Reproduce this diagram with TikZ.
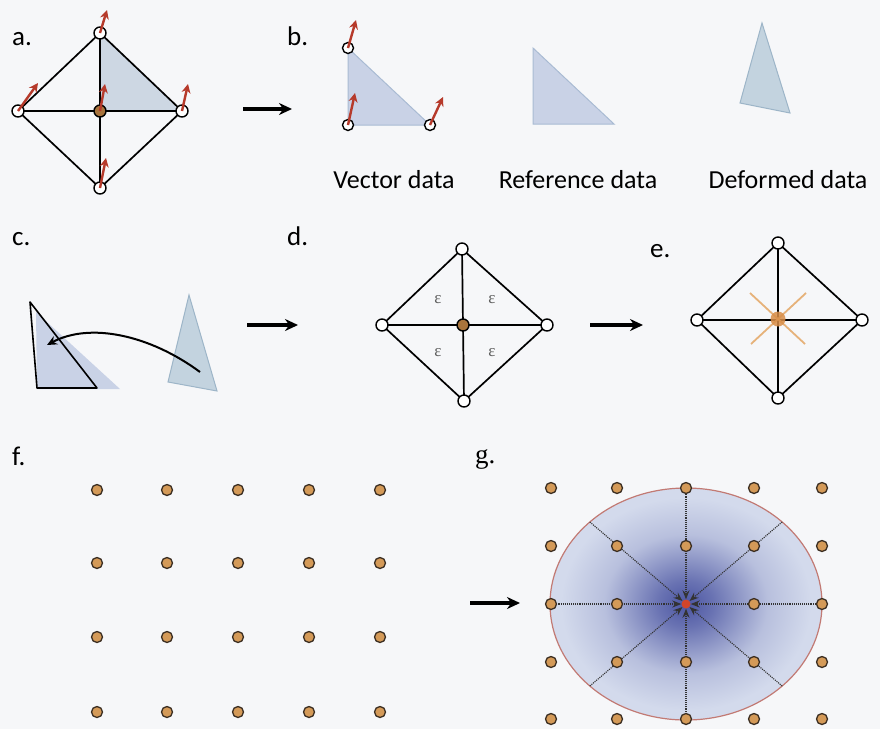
\documentclass[tikz,border=0pt]{standalone}
\usepackage{fontspec}
\setmainfont{Carlito}
\newfontfamily\seriffont{Liberation Serif}
\usetikzlibrary{arrows.meta}

\definecolor{bgcol}{HTML}{F6F7F9}
\definecolor{triblue}{HTML}{C9D2E6}
\definecolor{triedge}{HTML}{A9BBD3}
\definecolor{shadeblue}{HTML}{CDD7E3}
\definecolor{defblue}{HTML}{C3D3DF}
\definecolor{defedge}{HTML}{9DB5C8}
\definecolor{vecred}{HTML}{B63A2B}
\definecolor{dotfill}{HTML}{D49A58}
\definecolor{dotedge}{HTML}{3B2E22}
\definecolor{ctrfill}{HTML}{A8743C}
\definecolor{crossor}{HTML}{E6B27A}
\definecolor{blobor}{HTML}{D98E48}
\definecolor{rimred}{HTML}{C27A74}
\definecolor{gdark}{HTML}{4B55A2}
\definecolor{glight}{HTML}{D3DAEC}
\definecolor{epsgray}{HTML}{5E5E5E}
\definecolor{reddot}{HTML}{D2452A}

\pgfdeclareradialshading{glow}{\pgfpoint{0bp}{0bp}}{color(0bp)=(gdark); color(5bp)=(gdark!78!glight); color(15bp)=(glight!80!gdark); color(23bp)=(glight); color(50bp)=(glight)}

\tikzset{
  vtx/.style={circle, draw, fill=white, line width=1.4pt, minimum size=12pt, inner sep=0pt},
  ctr/.style={vtx, fill=ctrfill},
  gdot/.style={circle, draw=dotedge, fill=dotfill, line width=1.3pt, minimum size=11pt, inner sep=0pt},
  mesh/.style={line width=1.7pt},
  vec/.style={draw=vecred, line width=2.4pt, -{Stealth[length=9pt,width=9pt]}},
  flow/.style={line width=3.5pt, -{Stealth[length=13pt,width=12pt]}},
  tri/.style={fill=triblue, draw=triedge, line width=1pt},
  deftri/.style={fill=defblue, draw=defedge, line width=1pt},
  lbl/.style={anchor=base west, inner sep=0pt, font=\fontsize{27}{30}\selectfont},
  caption/.style={anchor=base, inner sep=0pt, font=\fontsize{26}{30}\selectfont},
  eps/.style={text=epsgray, font=\seriffont\fontsize{17}{18}\selectfont, inner sep=0pt},
  ray/.style={densely dotted, line width=1.1pt, draw=black!80, -{Stealth[length=9pt,width=7pt]}}
}

\begin{document}
\begin{tikzpicture}[x=1pt,y=-1pt]
    \fill[bgcol] (0,0) rectangle (880,729);
    \useasboundingbox (0,0) rectangle (880,729);

    % a. mesh with vectors
    \begin{scope}
        \node[lbl] (la) at (12,45) {a.};

        \coordinate (at) at (100,33);
        \coordinate (al) at (18,111);
        \coordinate (ar) at (182,111);
        \coordinate (ab) at (100,188);
        \coordinate (ac) at (100,111);

        \fill[shadeblue] (at)--(ac)--(ar)--cycle;
        \draw[mesh] (at)--(ar)--(ab)--(al)--cycle;
        \draw[mesh] (at)--(ab);
        \draw[mesh] (al)--(ar);

        \foreach \p in {at,al,ar,ab}{
            \node[vtx] at (\p) {};
        }
        \node[ctr] at (ac) {};

        \foreach \p/\dx/\dy in {at/7/-23,al/20/-28,ac/5/-27,ar/6/-27,ab/6/-30}{
            \path (\p) ++(\dx,\dy) coordinate (\p-v);
            \draw[vec] (\p) -- (\p-v);
        }
    \end{scope}

    % b. vector, reference and deformed data
    \begin{scope}
        \node[lbl] (lb) at (287,45) {b.};

        \coordinate (bt) at (348,48);
        \coordinate (bl) at (348,125);
        \coordinate (br) at (430,125);
        \draw[tri] (bt)--(bl)--(br)--cycle;
        \foreach \p in {bt,bl,br}{
            \node[vtx, minimum size=11pt] at (\p) {};
        }
        \foreach \p/\dx/\dy in {bt/8/-28,bl/7/-32,br/13/-28}{
            \path (\p) ++(\dx,\dy) coordinate (\p-v);
            \draw[vec] (\p) -- (\p-v);
        }

        \coordinate (rt) at (533,48);
        \coordinate (rl) at (533,124);
        \coordinate (rr) at (614,124);
        \draw[tri] (rt)--(rl)--(rr)--cycle;

        \coordinate (dt) at (762,23);
        \coordinate (dl) at (740,103);
        \coordinate (dr) at (790,113);
        \draw[deftri] (dt)--(dl)--(dr)--cycle;

        \node[caption] (cv) at (394,188) {Vector data};
        \node[caption] (cr) at (578,188) {Reference data};
        \node[caption] (cd) at (788,188) {Deformed data};
    \end{scope}

    % c. rotate deformed back onto reference
    \begin{scope}
        \node[lbl] (lc) at (12,245) {c.};

        \coordinate (ct) at (36,312);
        \coordinate (cl) at (37,389);
        \coordinate (cr) at (120,389);
        \fill[triblue] (ct)--(cl)--(cr)--cycle;
        \draw[line width=1.6pt, line join=round] (30,302)--(37,388)--(97,388)--cycle;

        \coordinate (qt) at (189,295);
        \coordinate (ql) at (168,382);
        \coordinate (qr) at (217,391);
        \draw[deftri] (qt)--(ql)--(qr)--cycle;

        \coordinate (mv0) at (200,372);
        \coordinate (mv1) at (47,345);
        \draw[line width=2pt, -{Stealth[length=10pt,width=9pt]}]
            (mv0) .. controls (150,335) and (90,322) .. (mv1);
    \end{scope}

    % d. strain per element
    \begin{scope}
        \node[lbl] (ld) at (287,245) {d.};

        \coordinate (dtp) at (462,249);
        \coordinate (dlf) at (382,325);
        \coordinate (drt) at (547,325);
        \coordinate (dbt) at (464,401);
        \coordinate (dcn) at (463,325);

        \draw[mesh] (dtp)--(drt)--(dbt)--(dlf)--cycle;
        \draw[mesh] (dtp)--(dbt);
        \draw[mesh] (dlf)--(drt);
        \foreach \p in {dtp,dlf,drt,dbt}{
            \node[vtx] at (\p) {};
        }
        \node[ctr] at (dcn) {};

        \foreach \x/\y in {438/300,492/300,438/353,492/353}{
            \node[eps] at (\x,\y) {ε};
        }
    \end{scope}

    % e. averaged at the node
    \begin{scope}
        \node[lbl] (le) at (650,257) {e.};

        \coordinate (etp) at (778,243);
        \coordinate (elf) at (697,320);
        \coordinate (ert) at (862,320);
        \coordinate (ebt) at (778,398);
        \coordinate (ecn) at (778,319);

        \draw[mesh] (etp)--(ert)--(ebt)--(elf)--cycle;
        \draw[mesh] (etp)--(ebt);
        \draw[mesh] (elf)--(ert);
        \foreach \p in {etp,elf,ert,ebt}{
            \node[vtx] at (\p) {};
        }

        \draw[crossor, line width=1.8pt] (750,293)--(805,344);
        \draw[crossor, line width=1.8pt] (806,293)--(751,344);
        \node[circle, fill=blobor, opacity=0.85, minimum size=15pt, inner sep=0pt] (eb) at (ecn) {};
    \end{scope}

    % f. regular grid
    \begin{scope}
        \node[lbl] (lf) at (12,465) {f.};
        \foreach \x in {97,167,238,309,380}{
            \foreach \y in {490,563,637,712}{
                \node[gdot] at (\x,\y) {};
            }
        }
    \end{scope}

    % g. weighted neighbourhood
    \begin{scope}
        \node[lbl, font=\seriffont\fontsize{27}{30}\selectfont] (lg) at (475,463) {g.};

        \coordinate (gc) at (686,604);
        \shade[shading=glow] (gc) ellipse [x radius=136, y radius=116];
        \draw[rimred, line width=1.2pt] (gc) ellipse [x radius=136, y radius=116];

        \node[circle, fill=reddot, minimum size=9pt, inner sep=0pt] (gdot0) at (gc) {};
        \foreach \a in {0,45,...,315}{
            \path (gc) ++(\a:136 and 116) coordinate (rim\a);
            \draw[ray] (rim\a) -- (gdot0);
        }

        \foreach \x in {551,617,686,754,822}{
            \foreach \y in {488,546,604,662,719}{
                \ifnum\x=686 \ifnum\y=604 \else
                    \node[gdot] at (\x,\y) {};
                \fi \else
                    \node[gdot] at (\x,\y) {};
                \fi
            }
        }
    \end{scope}

    % steps
    \foreach \i/\xs/\xe/\y in {1/243/292/109,2/247/298/325,3/590/643/325,4/470/520/603}{
        \coordinate (s\i) at (\xs,\y);
        \coordinate (t\i) at (\xe,\y);
        \draw[flow] (s\i) -- (t\i);
    }
\end{tikzpicture}
\end{document}
